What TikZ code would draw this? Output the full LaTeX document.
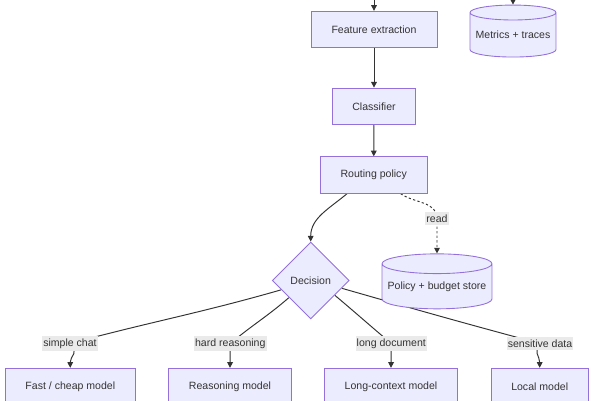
\documentclass[tikz,border=0pt]{standalone}
\usepackage{fontspec}
\setmainfont{Liberation Sans}
\usetikzlibrary{arrows.meta, positioning, calc, backgrounds, shapes.geometric}
\definecolor{boxfill}{HTML}{ECECFF}
\definecolor{boxline}{HTML}{9370DB}
\definecolor{inktext}{HTML}{333333}
\definecolor{linkline}{HTML}{333333}
\definecolor{labelbg}{HTML}{EAEAEA}

\begin{document}
\begin{tikzpicture}[
    x=0.02cm, y=-0.02cm,
    >={Triangle[length=3.2pt, width=3.2pt]},
    every node/.style={font=\fontsize{6}{7}\selectfont, text=inktext},
    block/.style={draw=boxline, line width=0.5pt, fill=boxfill, minimum width=#1, minimum height=0.73cm, inner sep=0pt, align=center},
    store/.style={cylinder, shape border rotate=90, aspect=0.2, draw=boxline, line width=0.5pt, fill=boxfill, inner sep=0pt, minimum width=#1},
    decide/.style={diamond, draw=boxline, line width=0.5pt, fill=boxfill, minimum width=1.54cm, minimum height=1.54cm, inner sep=0pt},
    edgelabel/.style={fill=labelbg, inner xsep=0.6pt, inner ysep=1.6pt},
    link/.style={->, draw=linkline, line width=0.55pt},
    dotlink/.style={link, dash pattern=on 1.3pt off 1.3pt},
]
    \useasboundingbox (0,0) rectangle (600,400);
    \clip (0,0) rectangle (600,400);

    % main chain
    \coordinate (featin) at (374,-20);
    \coordinate (metin) at (513,-20);
    \node[block=2.52cm] (feature) at (374,29.5) {Feature extraction};
    \node[block=1.67cm] (classifier) at (374,106.3) {Classifier};
    \node[block=2.14cm] (routing) at (373.7,175) {Routing policy};
    \node[decide] (decision) at (310.7,280.5) {Decision};

    % stores
    \node[store=1.72cm, minimum height=1.04cm] (metrics) at (513,35) {Metrics + traces};
    \node[store=2.2cm, minimum height=1.1cm] (policy) at (437,286.5) {Policy + budget store};

    % targets
    \node[block=2.61cm] (fast) at (70.3,386.5) {Fast / cheap model};
    \node[block=2.47cm] (reasoning) at (230,386.5) {Reasoning model};
    \node[block=2.67cm] (longctx) at (391,386.5) {Long-context model};
    \node[block=1.95cm] (local) at (539.7,386.5) {Local model};

    % edge labels
    \node[edgelabel] (readlbl) at (437,218.5) {read};
    \node[edgelabel] (chatlbl) at (70,343.5) {simple chat};
    \node[edgelabel] (hardlbl) at (230.3,343.5) {hard reasoning};
    \node[edgelabel] (doclbl) at (391.3,343.5) {long document};
    \node[edgelabel] (datalbl) at (540,343.5) {sensitive data};

    \begin{scope}[on background layer]
        \draw[link] (featin) -- (feature);
        \draw[link] (metin) -- (metrics.north);
        \draw[link] (feature) -- (classifier);
        \draw[link] (classifier) -- (routing);
        \draw[link] ([xshift=-0.534cm]routing.south) to[out=-140, in=90] (decision.north);
        \draw[dotlink] ([xshift=0.54cm]routing.south) to[out=-35, in=90] (readlbl.center) -- (policy.north);

        \draw[link] ($(decision.west)!0.24!(decision.south)$) to[out=196, in=15] (chatlbl.center)
            .. controls (80,352) and (70,356) .. (fast.north);
        \draw[link] ($(decision.west)!0.44!(decision.south)$) to[out=221, in=40] (hardlbl.center) -- (reasoning.north);
        \draw[link] ($(decision.east)!0.38!(decision.south)$) to[out=-40, in=140] (doclbl.center) -- (longctx.north);
        \draw[link] ($(decision.east)!0.2!(decision.south)$) to[out=-16, in=165] (datalbl.center)
            .. controls (533,352) and (539.7,356) .. (local.north);
    \end{scope}
\end{tikzpicture}
\end{document}
